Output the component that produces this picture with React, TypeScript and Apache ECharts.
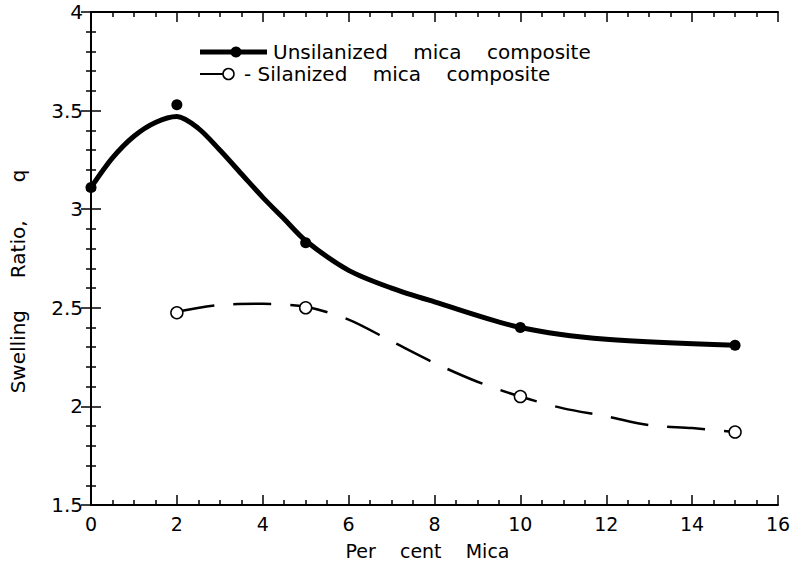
import React, { useEffect, useRef } from "react";
import * as echarts from "echarts";

const unsilX = [0, 2, 5, 10, 15];
const unsilY = [3.11, 3.53, 2.83, 2.4, 2.31];
const silX = [2, 5, 10, 15];
const silY = [2.475, 2.5, 2.05, 1.87];

// fitted curves as drawn in the picture
const unsilCurveX = [0, 0.5, 1, 1.5, 2, 2.5, 3, 3.5, 4, 4.5, 5, 6, 7, 8, 10, 12, 15];
const unsilCurveY = [3.11, 3.26, 3.37, 3.44, 3.47, 3.41, 3.3, 3.18, 3.06, 2.95, 2.84, 2.69, 2.6, 2.53, 2.4, 2.34, 2.31];
const silCurveX = [2, 3, 4, 5, 6, 7, 8, 9, 10, 11, 12, 13, 14, 15];
const silCurveY = [2.48, 2.515, 2.52, 2.505, 2.44, 2.33, 2.22, 2.125, 2.05, 1.99, 1.95, 1.905, 1.89, 1.87];

const xTicks = { min: 0, max: 16, interval: 2 };
const yTicks = { min: 1.5, max: 4, interval: 0.5 };

const FONT = "DejaVu Sans";
const nb = (n: number) => "\u00A0".repeat(n);

const zip = (xs: number[], ys: number[]) => xs.map((x, i) => [x, ys[i]]);

const mkAxisLine = () => ({ show: true, lineStyle: { color: "#000", width: 2 } });
const mkTick = () => ({ show: true, inside: true, length: 10, lineStyle: { color: "#000", width: 1.5 } });
const mkMinor = (n: number) => ({ show: true, splitNumber: n, length: 5, lineStyle: { color: "#000", width: 1.5 } });

export default function App() {
  const ref = useRef<HTMLDivElement>(null);
  useEffect(() => {
    if (!ref.current) return;
    document.body.style.margin = "0";
    const chart = echarts.init(ref.current, undefined, { renderer: "svg" });
    chart.setOption({
      animation: false,
      backgroundColor: "#fff",
      grid: { left: 88, right: 17, top: 12, bottom: 70, containLabel: false },
      xAxis: [
        {
          type: "value",
          position: "bottom",
          ...xTicks,
          axisLine: mkAxisLine(),
          axisTick: mkTick(),
          minorTick: mkMinor(4),
          splitLine: { show: false },
          axisLabel: { color: "#000", fontFamily: FONT, fontSize: 19, margin: 9 },
          name: "Per" + nb(4) + "cent" + nb(4) + "Mica",
          nameLocation: "middle",
          nameGap: 36,
          nameTextStyle: { color: "#000", fontFamily: FONT, fontSize: 19, padding: [0, 14, 0, 0] },
        },
        {
          type: "value",
          position: "top",
          ...xTicks,
          axisLine: mkAxisLine(),
          axisTick: mkTick(),
          minorTick: mkMinor(4),
          splitLine: { show: false },
          axisLabel: { show: false },
        },
      ],
      yAxis: [
        {
          type: "value",
          position: "left",
          ...yTicks,
          axisLine: mkAxisLine(),
          axisTick: mkTick(),
          minorTick: mkMinor(5),
          splitLine: { show: false },
          axisLabel: { color: "#000", fontFamily: FONT, fontSize: 20, margin: 8 },
          name: "Swelling" + nb(5) + "Ratio," + nb(6) + "q",
          nameLocation: "middle",
          nameGap: 63,
          nameTextStyle: { color: "#000", fontFamily: FONT, fontSize: 20, padding: [0, 46, 0, 0] },
        },
        {
          type: "value",
          position: "right",
          ...yTicks,
          axisLine: mkAxisLine(),
          axisTick: mkTick(),
          minorTick: mkMinor(5),
          splitLine: { show: false },
          axisLabel: { show: false },
        },
      ],
      series: [
        {
          type: "line",
          data: zip(unsilCurveX, unsilCurveY),
          smooth: 0.3,
          showSymbol: false,
          lineStyle: { color: "#000", width: 5 },
          z: 2,
        },
        {
          type: "line",
          data: zip(silCurveX, silCurveY),
          smooth: 0.3,
          showSymbol: false,
          lineStyle: { color: "#000", width: 2.5, type: [38, 19] },
          z: 2,
        },
        {
          type: "scatter",
          data: zip(unsilX, unsilY),
          symbol: "circle",
          symbolSize: 11,
          itemStyle: { color: "#000", opacity: 1 },
          z: 3,
        },
        {
          type: "scatter",
          data: zip(silX, silY),
          symbol: "circle",
          symbolSize: 12,
          itemStyle: { color: "#fff", borderColor: "#000", borderWidth: 1.5, opacity: 1 },
          z: 3,
        },
      ],
      graphic: [
        { type: "line", shape: { x1: 200, y1: 52, x2: 267, y2: 52 }, style: { stroke: "#000", lineWidth: 5 } },
        { type: "circle", shape: { cx: 236, cy: 52, r: 5.5 }, style: { fill: "#000" } },
        {
          type: "text",
          x: 273,
          y: 52,
          style: {
            text: "Unsilanized" + nb(4) + "mica" + nb(4) + "composite",
            fontFamily: FONT,
            fontSize: 20,
            fill: "#000",
            verticalAlign: "middle",
          },
        },
        { type: "line", shape: { x1: 200, y1: 74, x2: 223, y2: 74 }, style: { stroke: "#000", lineWidth: 2 } },
        { type: "circle", shape: { cx: 228.5, cy: 74, r: 5.5 }, style: { fill: "#fff", stroke: "#000", lineWidth: 1.5 } },
        {
          type: "text",
          x: 244,
          y: 74,
          style: {
            text: "-" + nb(1) + "Silanized" + nb(4) + "mica" + nb(4) + "composite",
            fontFamily: FONT,
            fontSize: 20,
            fill: "#000",
            verticalAlign: "middle",
          },
        },
      ],
    });
    return () => chart.dispose();
  }, []);
  return <div ref={ref} style={{ width: 795, height: 575 }} />;
}
